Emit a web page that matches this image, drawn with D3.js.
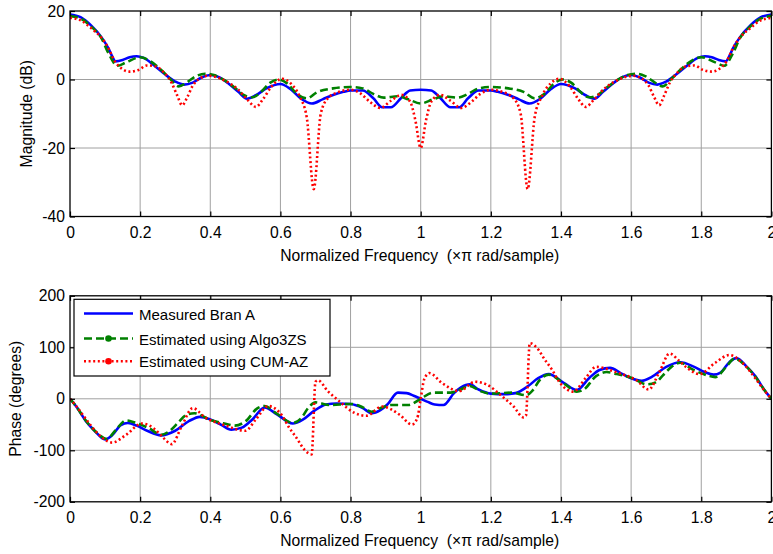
<!DOCTYPE html>
<html><head><meta charset="utf-8">
<script src="https://cdn.jsdelivr.net/npm/d3@7"></script>
<style>
body{margin:0;background:#fff;}
text{font-family:Arial,"Liberation Sans",sans-serif;fill:#000;}
</style>
</head><body>
<svg id="chart" width="773" height="554"></svg>
<script>
// ---------- data ----------
const freqTicks = [0,0.2,0.4,0.6,0.8,1,1.2,1.4,1.6,1.8,2];
const freqTickLabels = ["0","0.2","0.4","0.6","0.8","1","1.2","1.4","1.6","1.8","2"];
const magTicks = [-40,-20,0,20];
const phaseTicks = [-200,-100,0,100,200];
const seriesNames = ["Measured Bran A","Estimated using Algo3ZS","Estimated using CUM-AZ"];

const magMeasured = [[0,19],[0.03,18.2],[0.06,15.8],[0.09,12.3],[0.11,9],[0.12,6.8],[0.13,5.3],[0.15,5.7],[0.17,6.5],[0.19,6.8],[0.21,6.3],[0.24,4.1],[0.27,1.6],[0.30,-0.6],[0.325,-1.5],[0.35,-0.9],[0.375,0.6],[0.40,1.3],[0.425,0.7],[0.45,-1.0],[0.48,-3.6],[0.505,-5.6],[0.53,-4.6],[0.56,-2.6],[0.60,-1.3],[0.63,-2.9],[0.66,-5.7],[0.69,-7.0],[0.72,-5.8],[0.75,-4.5],[0.78,-3.6],[0.80,-3.2],[0.835,-3.2],[0.865,-5.5],[0.89,-8.1],[0.915,-8.1],[0.945,-5.3],[0.97,-3.2],[1.0,-3.0],
  [1.03,-3.2],[1.055,-5.3],[1.085,-8.1],[1.11,-8.1],[1.135,-5.5],[1.165,-3.2],[1.20,-3.2],[1.22,-3.6],[1.25,-4.5],[1.28,-5.8],[1.31,-7.0],[1.34,-5.7],[1.37,-2.9],[1.40,-1.3],[1.44,-2.6],[1.47,-4.6],[1.495,-5.6],[1.52,-3.6],[1.55,-1.0],[1.575,0.7],[1.60,1.3],[1.625,0.6],[1.65,-0.9],[1.675,-1.5],[1.70,-0.6],[1.73,1.6],[1.76,4.1],[1.79,6.3],[1.81,6.8],[1.83,6.5],[1.85,5.7],[1.87,5.3],[1.88,6.8],[1.89,9],[1.91,12.3],[1.94,15.8],[1.97,18.2],[2.0,19]];

const magAlgo3ZS = [[0,18.5],[0.03,17.8],[0.06,15.5],[0.09,12],[0.11,7.6],[0.135,4.0],[0.16,5.0],[0.20,6.5],[0.23,5.3],[0.26,2.8],[0.285,0.2],[0.31,-2.0],[0.335,-0.7],[0.36,1.0],[0.385,1.7],[0.41,1.3],[0.44,-0.2],[0.47,-2.4],[0.495,-4.5],[0.52,-5.2],[0.545,-3.6],[0.57,-1.0],[0.595,0],[0.62,-1.2],[0.645,-4.0],[0.675,-5.5],[0.705,-3.7],[0.75,-2.6],[0.80,-2.2],[0.835,-2.6],[0.865,-4.2],[0.895,-5.3],[0.935,-4.9],[0.965,-5.8],[1.0,-7.0],
  [1.035,-5.8],[1.065,-4.9],[1.105,-5.3],[1.135,-4.2],[1.165,-2.6],[1.20,-2.2],[1.25,-2.6],[1.295,-3.7],[1.325,-5.5],[1.355,-4.0],[1.38,-1.2],[1.405,0],[1.43,-1.0],[1.455,-3.6],[1.48,-5.2],[1.505,-4.5],[1.53,-2.4],[1.56,-0.2],[1.59,1.3],[1.615,1.7],[1.64,1.0],[1.665,-0.7],[1.69,-2.0],[1.715,0.2],[1.74,2.8],[1.77,5.3],[1.80,6.5],[1.84,5.0],[1.865,4.0],[1.89,7.6],[1.91,12],[1.94,15.5],[1.97,17.8],[2.0,18.5]];

const magCumAZ = [[0,18],[0.03,17.3],[0.06,15],[0.09,12.2],[0.105,10],[0.13,5],[0.15,3.0],[0.17,2.3],[0.195,2.8],[0.22,4.1],[0.245,3.8],[0.27,1.8],[0.29,-1.0],[0.305,-4.5],[0.32,-7.5],[0.335,-5.0],[0.35,-1.8],[0.37,0.3],[0.395,1.1],[0.42,0.6],[0.45,-0.8],[0.48,-3.0],[0.505,-5.8],[0.53,-8.0],[0.55,-5.8],[0.575,-2.0],[0.605,0.2],[0.63,-1.2],[0.655,-5.0],[0.675,-11],[0.695,-32],[0.715,-10],[0.735,-5.5],[0.765,-3.7],[0.80,-3.0],[0.83,-4.2],[0.855,-6.5],[0.885,-8.3],[0.915,-6.2],[0.945,-4.5],[0.97,-6.5],[0.985,-12],[1.0,-20],
  [1.015,-12],[1.03,-6.5],[1.055,-4.5],[1.085,-6.2],[1.115,-8.3],[1.145,-6.5],[1.17,-4.2],[1.20,-3.0],[1.235,-3.7],[1.265,-5.5],[1.285,-10],[1.305,-32],[1.325,-11],[1.345,-5.0],[1.37,-1.2],[1.395,0.2],[1.425,-2.0],[1.45,-5.8],[1.47,-8.0],[1.495,-5.8],[1.52,-3.0],[1.55,-0.8],[1.58,0.6],[1.605,1.1],[1.63,0.3],[1.65,-1.8],[1.665,-5.0],[1.68,-7.5],[1.695,-4.5],[1.71,-1.0],[1.73,1.8],[1.755,3.8],[1.78,4.1],[1.805,2.8],[1.83,2.3],[1.85,3.0],[1.87,5],[1.895,10],[1.91,12.2],[1.94,15],[1.97,17.3],[2.0,18]];

const phaseMeasured = [[0,0],[0.02,-17],[0.046,-44],[0.07,-62],[0.10,-79],[0.12,-71],[0.145,-51],[0.165,-47],[0.19,-52],[0.22,-62],[0.26,-71],[0.30,-62],[0.34,-43],[0.37,-35],[0.40,-40],[0.43,-50],[0.46,-60],[0.49,-56],[0.52,-40],[0.555,-17],[0.59,-30],[0.635,-48],[0.665,-40],[0.695,-24],[0.73,-11],[0.76,-9],[0.80,-10],[0.835,-18],[0.86,-28],[0.885,-22],[0.905,-11],[0.935,12],[0.96,11],[0.98,6],[1.0,0],
  [1.02,-6],[1.04,-11],[1.065,-12],[1.095,11],[1.115,22],[1.14,28],[1.165,18],[1.20,10],[1.24,9],[1.27,11],[1.305,24],[1.335,40],[1.365,48],[1.41,30],[1.445,17],[1.48,40],[1.51,56],[1.54,60],[1.57,50],[1.60,40],[1.63,35],[1.66,43],[1.70,62],[1.74,71],[1.78,62],[1.81,52],[1.835,47],[1.855,51],[1.88,71],[1.90,79],[1.93,62],[1.954,44],[1.98,17],[2.0,0]];

const phaseAlgo3ZS = [[0,0],[0.02,-17],[0.046,-43],[0.075,-65],[0.105,-78],[0.13,-61],[0.16,-42],[0.185,-46],[0.225,-57],[0.26,-70],[0.285,-62],[0.31,-45],[0.33,-32],[0.355,-28],[0.40,-41],[0.44,-48],[0.47,-52],[0.50,-44],[0.535,-18],[0.555,-14],[0.59,-29],[0.635,-47],[0.66,-37],[0.68,-17],[0.70,-7],[0.74,-12],[0.80,-10],[0.83,-15],[0.86,-25],[0.89,-17],[0.915,-12],[0.965,-12],[1.0,0],
  [1.035,12],[1.085,12],[1.11,17],[1.14,25],[1.17,15],[1.20,10],[1.26,12],[1.30,7],[1.32,17],[1.34,37],[1.365,47],[1.41,29],[1.445,14],[1.465,18],[1.50,44],[1.53,52],[1.56,48],[1.60,41],[1.645,28],[1.67,32],[1.69,45],[1.715,62],[1.74,70],[1.775,57],[1.815,46],[1.84,42],[1.87,61],[1.895,78],[1.925,65],[1.954,43],[1.98,17],[2.0,0]];

const phaseCumAZ = [[0,0],[0.02,-16],[0.046,-40],[0.08,-68],[0.12,-85],[0.16,-70],[0.205,-48],[0.24,-58],[0.265,-75],[0.29,-88],[0.32,-51],[0.35,-18],[0.385,-36],[0.44,-51],[0.50,-62],[0.53,-40],[0.565,-14],[0.605,-33],[0.625,-56],[0.645,-75],[0.67,-100],[0.689,-108],[0.70,33],[0.707,36],[0.735,15],[0.77,-6],[0.81,-27],[0.845,-33],[0.89,-15],[0.94,-31],[0.975,-50],[0.99,-38],[1.0,0],
  [1.01,38],[1.025,50],[1.06,31],[1.11,15],[1.155,33],[1.19,27],[1.23,6],[1.265,-15],[1.293,-36],[1.30,-33],[1.311,108],[1.33,100],[1.355,75],[1.375,56],[1.395,33],[1.435,14],[1.47,40],[1.50,62],[1.56,51],[1.615,36],[1.65,18],[1.68,51],[1.71,88],[1.735,75],[1.76,60],[1.795,48],[1.84,70],[1.88,85],[1.92,68],[1.954,40],[1.98,16],[2.0,0]];

// ---------- layout / styles ----------
const svg = d3.select("#chart");
const X0 = 70, X1 = 771.4;
const FS = 15.7, LFS = 15;
const styles = [
  {color:"#0000ff", dash:null, width:2.6},
  {color:"#008000", dash:"8,4", width:2.6},
  {color:"#ff0000", dash:"2,2.6", width:2.6}
];
const x = d3.scaleLinear().domain([0,2]).range([X0,X1]);

function panel(id, yTop, yBot, domain, ticks, seriesData, ylabel, ylabelX) {
  const y = d3.scaleLinear().domain(domain).range([yBot,yTop]);
  const g = svg.append("g");
  g.append("g").selectAll("line").data(freqTicks.slice(1,-1)).join("line")
    .attr("x1",d=>x(d)).attr("x2",d=>x(d)).attr("y1",yTop).attr("y2",yBot)
    .attr("stroke","#a0a0a0").attr("stroke-width",1);
  g.append("g").selectAll("line").data(ticks.slice(1,-1)).join("line")
    .attr("x1",X0).attr("x2",X1).attr("y1",d=>y(d)).attr("y2",d=>y(d))
    .attr("stroke","#a0a0a0").attr("stroke-width",1);
  const clipId = "clip"+id;
  svg.append("clipPath").attr("id",clipId).append("rect")
    .attr("x",X0).attr("y",yTop).attr("width",X1-X0).attr("height",yBot-yTop);
  const line = d3.line().x(d=>x(d[0])).y(d=>y(d[1])).curve(d3.curveMonotoneX);
  seriesData.forEach((s,i)=>{
    g.append("path").attr("d",line(s)).attr("fill","none")
      .attr("stroke",styles[i].color).attr("stroke-width",styles[i].width)
      .attr("stroke-dasharray",styles[i].dash).attr("stroke-linejoin","round")
      .attr("clip-path","url(#"+clipId+")");
  });
  const ax = d3.axisBottom(x).tickValues(freqTicks).tickFormat((d,i)=>freqTickLabels[i])
    .tickSizeInner(-5).tickSizeOuter(0).tickPadding(10);
  const gx = g.append("g").attr("transform",`translate(0,${yBot})`).call(ax);
  const axT = d3.axisTop(x).tickValues(freqTicks).tickFormat("").tickSizeInner(-5).tickSizeOuter(0);
  const gxt = g.append("g").attr("transform",`translate(0,${yTop})`).call(axT);
  const ay = d3.axisLeft(y).tickValues(ticks).tickFormat(d=>String(d))
    .tickSizeInner(-5).tickSizeOuter(0).tickPadding(5);
  const gy = g.append("g").attr("transform",`translate(${X0},0)`).call(ay);
  const ayR = d3.axisRight(y).tickValues(ticks).tickFormat("").tickSizeInner(-5).tickSizeOuter(0);
  const gyr = g.append("g").attr("transform",`translate(${X1},0)`).call(ayR);
  [gx,gxt,gy,gyr].forEach(a=>{
    a.select(".domain").remove();
    a.attr("font-size",FS).attr("font-family","Arial, 'Liberation Sans', sans-serif");
    a.selectAll(".tick line").attr("stroke","#000").attr("stroke-width",1.2);
    a.selectAll(".tick text").attr("fill","#000");
  });
  g.append("rect").attr("x",X0).attr("y",yTop).attr("width",X1-X0).attr("height",yBot-yTop)
    .attr("fill","none").attr("stroke","#000").attr("stroke-width",1.3);
  g.append("text").attr("x",(X0+X1)/2-1).attr("y",yBot+44).attr("text-anchor","middle")
    .attr("font-size",FS).style("white-space","pre").text("Normalized Frequency  (\u00d7\u03c0 rad/sample)");
  g.append("text").attr("transform",`translate(${ylabelX},${(yTop+yBot)/2}) rotate(-90)`)
    .attr("text-anchor","middle").attr("font-size",FS).text(ylabel);
  return {g,y};
}

panel("m", 11, 216.5, [-40,20], magTicks, [magMeasured, magAlgo3ZS, magCumAZ], "Magnitude (dB)", 31.5);
panel("p", 295.8, 501.8, [-200,200], phaseTicks, [phaseMeasured, phaseAlgo3ZS, phaseCumAZ], "Phase (degrees)", 21);

// legend
const leg = svg.append("g");
leg.append("rect").attr("x",74).attr("y",299.3).attr("width",256).attr("height",76.7)
  .attr("fill","#fff").attr("stroke","#000").attr("stroke-width",1.2);
const rowY = [313.5, 338.5, 361.3];
seriesNames.forEach((name,i)=>{
  leg.append("line").attr("x1",84).attr("x2",133).attr("y1",rowY[i]).attr("y2",rowY[i])
    .attr("stroke",styles[i].color).attr("stroke-width",styles[i].width)
    .attr("stroke-dasharray",styles[i].dash);
  if (i>0) leg.append("circle").attr("cx",108.5).attr("cy",rowY[i]).attr("r",3.3).attr("fill",styles[i].color);
  leg.append("text").attr("x",139).attr("y",rowY[i]+6).attr("font-size",LFS).text(name);
});
</script>
</body></html>
